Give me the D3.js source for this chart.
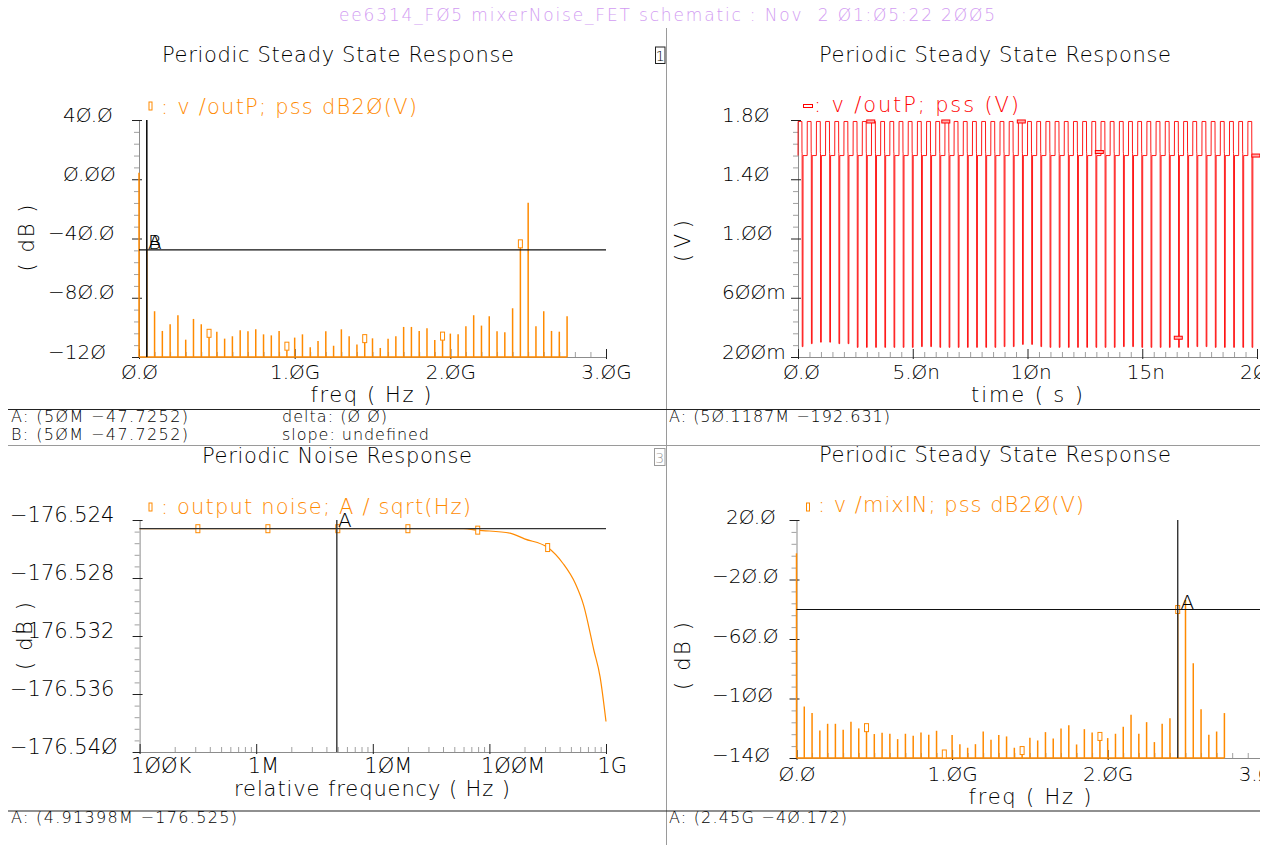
<!DOCTYPE html>
<html>
<head>
<meta charset="utf-8">
<script src="https://cdn.jsdelivr.net/npm/d3@7"></script>
<style>
body { margin: 0; background: #fff; }
svg { display: block; font-family: "DejaVu Sans", sans-serif; font-weight: 200; }
text { white-space: pre; }
</style>
</head>
<body>
<svg id="chart"></svg>
<script>
// harmonics of the pss runs (MHz), shared by the two spectrum plots
var harmFreqMHz = [0, 50, 100, 150, 200, 250, 300, 350, 400, 450,
    500, 550, 600, 650, 700, 750, 800, 850, 900, 950,
    1000, 1050, 1100, 1150, 1200, 1250, 1300, 1350, 1400, 1450,
    1500, 1550, 1600, 1650, 1700, 1750, 1800, 1850, 1900, 1950,
    2000, 2050, 2100, 2150, 2200, 2250, 2300, 2350, 2400, 2450,
    2500, 2550, 2600, 2650, 2700, 2750];

// v /outP ; pss dB20(V)
var outPdB = [4.4, -47.7252, -89.1, -102.4, -97.9, -91.8, -108.3, -94.3, -97.9, -104.0,
    -102.9, -107.6, -106.0, -102.0, -102.7, -101.3, -104.7, -105.4, -102.4, -112.7,
    -106.9, -104.7, -113.5, -109.2, -102.7, -112.4, -101.3, -106.0, -111.5, -107.6,
    -107.4, -113.9, -107.6, -106.0, -99.7, -99.7, -102.4, -100.6, -108.5, -105.9,
    -104.2, -104.7, -99.3, -91.8, -98.8, -92.5, -102.7, -103.3, -87.1, -43.6,
    -15.9, -99.3, -89.1, -102.4, -102.9, -92.5];

// v /mixIN ; pss dB20(V)
var mixINdB = [-2.4, -105.4, -109.8, -121.5, -117.0, -117.0, -121.0, -115.7, -120.1, -119.6,
    -123.9, -123.0, -123.7, -127.3, -123.7, -125.1, -122.8, -124.4, -121.7, -137.3,
    -124.6, -130.7, -133.1, -130.7, -122.2, -127.7, -124.6, -125.5, -133.1, -135.0,
    -126.4, -128.2, -122.6, -126.9, -120.1, -117.9, -130.9, -120.6, -122.8, -125.5,
    -126.6, -123.7, -119.0, -111.0, -123.7, -115.9, -129.3, -117.0, -113.2, -40.172,
    -33.7, -76.3, -107.2, -124.4, -122.2, -109.8];

// points that carry a trace symbol
var specMarkIdx = [9, 19, 29, 39, 49];

// output noise (relative frequency in Hz)
var noiseFreqHz = [1e5, 3e5, 1e6, 3e6, 1e7, 3e7, 6e7, 7.9e7, 1.5e8, 2e8, 3.17e8,
    4.28e8, 5.47e8, 6.44e8, 7.88e8, 8.89e8, 1e9];
var noiseDb = [-176.5246, -176.5246, -176.5246, -176.5246, -176.5246, -176.5246, -176.5246,
    -176.5247, -176.5249, -176.5253, -176.5259, -176.5270, -176.5284, -176.5299,
    -176.5330, -176.5348, -176.5379];
var noiseMarkHz = [3.16e5, 1.26e6, 5.01e6, 2.0e7, 7.94e7, 3.16e8];
var noiseMarkDb = [-176.5246, -176.5246, -176.5246, -176.5246, -176.5247, -176.5259];

// v /outP ; pss (V): one cycle shape, repeated with the spike floor of each cycle
var periodNs = 0.4;
var cycleDtNs = [0, 0.004, 0.17, 0.174, 0.18, 0.185, 0.215, 0.22];
var cycleV = [1.56, 1.79, 1.79, 1.585, 1.575, null, null, 1.56];
var cycleMinV = [0.27, 0.29, 0.30, 0.30, 0.29, 0.29, 0.265, 0.265, 0.265, 0.265,
    0.265, 0.265, 0.265, 0.27, 0.27, 0.265, 0.265, 0.265, 0.265, 0.265,
    0.265, 0.265, 0.27, 0.27, 0.285, 0.285, 0.27, 0.265, 0.265, 0.265,
    0.265, 0.265, 0.265, 0.265, 0.265, 0.27, 0.27, 0.265, 0.265, 0.265,
    0.265, 0.265, 0.265, 0.27, 0.27, 0.265, 0.265, 0.265, 0.265, 0.265];
var waveMarkNs = [3.17, 6.44, 9.73, 13.13, 16.57, 19.95];
var waveMarkV = [1.79, 1.79, 1.79, 1.584, 0.33, 1.56];

// markers
var markA_TL = { f: 50, v: -47.7252 };
var markA_BL = { f: 4.91398e6, v: -176.5246 };
var markA_BR = { f: 2450, v: -40.172 };

// tick labels
var tlYTicks = [-120, -80, -40, 0, 40], tlYLabels = ["−12Ø", "−8Ø.Ø", "−4Ø.Ø", "Ø.ØØ", "4Ø.Ø"];
var tlXTicks = [0, 1000, 2000, 3000], tlXLabels = ["Ø.Ø", "1.ØG", "2.ØG", "3.ØG"];
var trYTicks = [0.2, 0.6, 1.0, 1.4, 1.8], trYLabels = ["2ØØm", "6ØØm", "1.ØØ", "1.4Ø", "1.8Ø"];
var trXTicks = [0, 5, 10, 15, 20], trXLabels = ["Ø.Ø", "5.Øn", "1Øn", "15n", "2Øn"];
var blYTicks = [-176.540, -176.536, -176.532, -176.528, -176.524],
    blYLabels = ["−176.54Ø", "−176.536", "−176.532", "−176.528", "−176.524"];
var blXTicks = [1e5, 1e6, 1e7, 1e8, 1e9], blXLabels = ["1ØØK", "1M", "1ØM", "1ØØM", "1G"];
var brYTicks = [-140, -100, -60, -20, 20], brYLabels = ["−14Ø", "−1ØØ", "−6Ø.Ø", "−2Ø.Ø", "2Ø.Ø"];
var brXTicks = [0, 1000, 2000, 3000], brXLabels = ["Ø.Ø", "1.ØG", "2.ØG", "3.ØG"];

var ORANGE = "#ff8a00", RED = "#ff0000", AXIS_GREY = "#8c8c8c", MINOR_GREY = "#a0a0a0";

var svg = d3.select("#chart").attr("width", 1279).attr("height", 845);
svg.append("defs").append("clipPath").attr("id", "cut")
    .append("rect").attr("x", 0).attr("y", 0).attr("width", 1260).attr("height", 845);
var root = svg.append("g").attr("clip-path", "url(#cut)");

// scales
var xTL = d3.scaleLinear().domain([0, 3000]).range([139, 606]);
var yTL = d3.scaleLinear().domain([-120, 40]).range([357, 120]);
var xTR = d3.scaleLinear().domain([0, 20]).range([798, 1257]);
var yTR = d3.scaleLinear().domain([0.2, 1.8]).range([357, 120]);
var xBL = d3.scaleLog().domain([1e5, 1e9]).range([139.6, 606]);
var yBL = d3.scaleLinear().domain([-176.540, -176.524]).range([752, 520]);
var xBR = d3.scaleLinear().domain([0, 3000]).range([796.5, 1263.3]);
var yBR = d3.scaleLinear().domain([-140, 20]).range([758, 520]);

function txt(x, y, s, o) {
    o = o || {};
    var t = root.append("text").attr("x", x).attr("y", y).text(s)
        .attr("font-size", o.size || 20)
        .attr("fill", o.fill || "#000")
        .attr("text-anchor", o.anchor || "start");
    if (o.len) t.attr("textLength", o.len).attr("lengthAdjust", "spacing");
    return t;
}

function vtxt(cx, cy, s, len) {
    root.append("text").attr("transform", "translate(" + cx + "," + cy + ") rotate(-90)")
        .attr("text-anchor", "middle").attr("dy", "0.35em")
        .attr("font-size", 21).attr("fill", "#000")
        .attr("textLength", len).attr("lengthAdjust", "spacing")
        .text(s);
}

function yAxis(scale, x0, majors, labels, minors, labelLeft, minusW, ty, fs) {
    var minor = root.append("g").attr("transform", "translate(" + x0 + ",0)")
        .call(d3.axisLeft(scale).tickValues(minors).tickSize(5).tickSizeOuter(0).tickFormat(""));
    minor.select(".domain").attr("stroke", AXIS_GREY);
    minor.selectAll(".tick line").attr("stroke", MINOR_GREY);
    var major = root.append("g").attr("transform", "translate(" + x0 + ",0)")
        .call(d3.axisLeft(scale).tickValues(majors).tickSize(7).tickSizeOuter(0)
            .tickFormat(function(d, i) { return labels[i]; }));
    major.select(".domain").remove();
    major.attr("font-family", null).attr("font-size", fs).attr("text-anchor", "start");
    major.selectAll(".tick line").attr("stroke", "#222").attr("x1", 3);
    major.selectAll(".tick text")
        .attr("fill", "#000")
        .attr("x", function(d, i) { return labelLeft - x0 + (labels[i].charAt(0) === "−" ? 0 : minusW); })
        .attr("dy", null).attr("y", ty);
}

function xAxis(scale, y0, majors, labels, minors, anchor, dx, ty, fs) {
    var minor = root.append("g").attr("transform", "translate(0," + y0 + ")")
        .call(d3.axisBottom(scale).tickValues(minors).tickSize(-5).tickSizeOuter(0).tickFormat(""));
    minor.select(".domain").attr("stroke", AXIS_GREY);
    minor.selectAll(".tick line").attr("stroke", MINOR_GREY);
    var major = root.append("g").attr("transform", "translate(0," + y0 + ")")
        .call(d3.axisBottom(scale).tickValues(majors).tickSize(-8).tickSizeOuter(0)
            .tickFormat(function(d, i) { return labels[i]; }));
    major.select(".domain").remove();
    major.attr("font-family", null).attr("font-size", fs).attr("text-anchor", anchor);
    major.selectAll(".tick line").attr("stroke", "#222").attr("y1", 2);
    major.selectAll(".tick text").attr("fill", "#000")
        .attr("dy", null).attr("y", ty).attr("x", dx);
}

function notIn(list) { return function(v) { return list.every(function(m) { return Math.abs(m - v) > 1e-9; }); }; }

function stems(xs, ys, vals, floor) {
    var g = root.append("g");
    g.append("line")
        .attr("x1", xs(harmFreqMHz[0])).attr("x2", xs(harmFreqMHz[harmFreqMHz.length - 1]))
        .attr("y1", ys(floor)).attr("y2", ys(floor))
        .attr("stroke", ORANGE).attr("stroke-width", 1.3);
    g.selectAll("line.stem").data(harmFreqMHz).enter().append("line")
        .attr("class", "stem")
        .attr("x1", function(d) { return xs(d); })
        .attr("x2", function(d) { return xs(d); })
        .attr("y1", ys(floor))
        .attr("y2", function(d, i) { return ys(vals[i]); })
        .attr("stroke", ORANGE).attr("stroke-width", 1.5);
    g.selectAll("rect").data(specMarkIdx).enter().append("rect")
        .attr("x", function(i) { return xs(harmFreqMHz[i]) - 2; })
        .attr("y", function(i) { return ys(vals[i]) - 4; })
        .attr("width", 4).attr("height", 8)
        .attr("fill", "#fff").attr("stroke", ORANGE).attr("stroke-width", 1);
}

// ---- frame ----
root.append("line").attr("x1", 666.5).attr("x2", 666.5).attr("y1", 28).attr("y2", 845)
    .attr("stroke", "#9a9a9a");
[[409.5, "#222"], [445.5, "#9a9a9a"], [811, "#222"]].forEach(function(h) {
    root.append("line").attr("x1", 8).attr("x2", 1260).attr("y1", h[0]).attr("y2", h[0])
        .attr("stroke", h[1]).attr("stroke-width", 1.2);
});
root.append("rect").attr("x", 655.5).attr("y", 47).attr("width", 9.5).attr("height", 16.5)
    .attr("fill", "none").attr("stroke", "#222");
txt(660.2, 61, "1", { size: 14, anchor: "middle" });
root.append("rect").attr("x", 654.5).attr("y", 448.5).attr("width", 10.5).attr("height", 17)
    .attr("fill", "none").attr("stroke", "#9a9a9a");
txt(659.7, 463, "3", { size: 14, anchor: "middle", fill: "#9a9a9a" });

txt(339, 21, "ee6314_FØ5 mixerNoise_FET schematic : Nov  2 Ø1:Ø5:22 2ØØ5",
    { size: 17, fill: "#d29cf2", len: 656 });

// ---- top left: outP spectrum ----
txt(162, 62, "Periodic Steady State Response", { size: 21, len: 352 });
root.append("rect").attr("x", 149).attr("y", 102).attr("width", 3).attr("height", 8)
    .attr("fill", "none").attr("stroke", ORANGE);
txt(161, 114, ": v /outP; pss dB2Ø(V)", { size: 21, fill: ORANGE, len: 256 });
yAxis(yTL, 139, tlYTicks, tlYLabels, d3.range(-120, 40.1, 8).filter(notIn(tlYTicks)), 48, 15, 1, 20);
xAxis(xTL, 357, tlXTicks, tlXLabels, d3.range(0, 3001, 100).filter(notIn(tlXTicks)), "middle", 0, 22, 20);
vtxt(27, 238, "( dB )", 67);
txt(371, 402, "freq ( Hz )", { size: 21, anchor: "middle", len: 121 });
stems(xTL, yTL, outPdB, -120);
root.append("line").attr("x1", xTL(markA_TL.f)).attr("x2", xTL(markA_TL.f))
    .attr("y1", yTL(40)).attr("y2", yTL(-120)).attr("stroke", "#111").attr("stroke-width", 1.6);
root.append("line").attr("x1", xTL(0)).attr("x2", xTL(3000))
    .attr("y1", yTL(markA_TL.v)).attr("y2", yTL(markA_TL.v)).attr("stroke", "#111").attr("stroke-width", 1.2);
txt(148, 249, "A", { size: 20 });
txt(148, 249, "B", { size: 20 });

txt(11, 422, "A: (5ØM −47.7252)", { size: 16, len: 177 });
txt(11, 440, "B: (5ØM −47.7252)", { size: 16, len: 177 });
txt(282, 422, "delta: (Ø Ø)", { size: 16, len: 105 });
txt(282, 440, "slope: undefined", { size: 16, len: 147 });

// ---- top right: outP waveform ----
txt(819, 62, "Periodic Steady State Response", { size: 21, len: 352 });
root.append("rect").attr("x", 803.5).attr("y", 104.5).attr("width", 9).attr("height", 3)
    .attr("fill", "none").attr("stroke", RED);
txt(814, 112, ": v /outP; pss (V)", { size: 21, fill: RED, len: 205 });
yAxis(yTR, 798, trYTicks, trYLabels, d3.range(0.2, 1.801, 0.08).filter(notIn(trYTicks)), 722, 0, 1, 20);
xAxis(xTR, 357, trXTicks, trXLabels, d3.range(0, 20.01, 0.5).filter(notIn(trXTicks)), "middle", 3, 22, 20);
vtxt(683, 241, "( V )", 42);
txt(1027, 402, "time ( s )", { size: 21, anchor: "middle", len: 112 });

var wavePts = [];
cycleMinV.forEach(function(vmin, k) {
    cycleDtNs.forEach(function(dt, j) {
        wavePts.push([k * periodNs + dt, cycleV[j] === null ? vmin : cycleV[j]]);
    });
});
wavePts.push([20, 1.56]);
root.append("path").datum(wavePts)
    .attr("d", d3.line().x(function(d) { return xTR(d[0]); }).y(function(d) { return yTR(d[1]); }))
    .attr("fill", "none").attr("stroke", RED).attr("stroke-width", 0.9);
root.selectAll("rect.wm").data(waveMarkNs).enter().append("rect")
    .attr("class", "wm")
    .attr("x", function(d) { return xTR(d) - 4; })
    .attr("y", function(d, i) { return yTR(waveMarkV[i]) - 1.5; })
    .attr("width", 8).attr("height", 3)
    .attr("fill", "#ffb0b0").attr("stroke", RED).attr("stroke-width", 1);

txt(669, 422, "A: (5Ø.1187M −192.631)", { size: 16, len: 221 });

// ---- bottom left: noise ----
txt(202, 463, "Periodic Noise Response", { size: 21, len: 270 });
root.append("rect").attr("x", 149).attr("y", 503).attr("width", 3).attr("height", 8)
    .attr("fill", "none").attr("stroke", ORANGE);
txt(161, 514, ": output noise; A / sqrt(Hz)", { size: 21, fill: ORANGE, len: 310 });
var blMinorY = d3.range(0, 21).map(function(i) { return -176.540 + i * 0.0008; }).filter(notIn(blYTicks));
var blMinorX = [];
[1e5, 1e6, 1e7, 1e8].forEach(function(dec) {
    for (var m = 2; m <= 9; m++) blMinorX.push(dec * m);
});
yAxis(yBL, 139.6, blYTicks, blYLabels, blMinorY, 10, 0, 1, 21);
xAxis(xBL, 752, blXTicks, blXLabels, blMinorX, "start", -9, 21, 21);
vtxt(25, 636, "( dB )", 68);
txt(372, 796, "relative frequency ( Hz )", { size: 21, anchor: "middle", len: 276 });

root.append("path").datum(noiseFreqHz)
    .attr("d", d3.line().curve(d3.curveMonotoneX)
        .x(function(d) { return xBL(d); })
        .y(function(d, i) { return yBL(noiseDb[i]); }))
    .attr("fill", "none").attr("stroke", ORANGE).attr("stroke-width", 1.2);
root.selectAll("rect.nm").data(noiseMarkHz).enter().append("rect")
    .attr("class", "nm")
    .attr("x", function(d) { return xBL(d) - 2; })
    .attr("y", function(d, i) { return yBL(noiseMarkDb[i]) - 4; })
    .attr("width", 4).attr("height", 8)
    .attr("fill", "#fff").attr("stroke", ORANGE).attr("stroke-width", 1);
root.append("line").attr("x1", xBL(markA_BL.f)).attr("x2", xBL(markA_BL.f))
    .attr("y1", yBL(-176.524)).attr("y2", yBL(-176.540)).attr("stroke", "#333").attr("stroke-width", 1.4);
root.append("line").attr("x1", xBL(1e5)).attr("x2", xBL(1e9))
    .attr("y1", yBL(markA_BL.v)).attr("y2", yBL(markA_BL.v)).attr("stroke", "#333").attr("stroke-width", 1.2);
txt(338, 527, "A", { size: 20 });
txt(11, 823, "A: (4.91398M −176.525)", { size: 16, len: 226 });

// ---- bottom right: mixIN spectrum ----
txt(819, 462, "Periodic Steady State Response", { size: 21, len: 352 });
root.append("rect").attr("x", 806.5).attr("y", 503).attr("width", 3).attr("height", 8)
    .attr("fill", "none").attr("stroke", ORANGE);
txt(818, 512, ": v /mixIN; pss dB2Ø(V)", { size: 21, fill: ORANGE, len: 266 });
yAxis(yBR, 796.5, brYTicks, brYLabels, d3.range(-140, 20.1, 8).filter(notIn(brYTicks)), 712, 14, 3, 20);
xAxis(xBR, 758, brXTicks, brXLabels, d3.range(0, 3001, 100).filter(notIn(brXTicks)), "middle", 0, 23, 20);
vtxt(683, 656, "( dB )", 68);
txt(1030, 804, "freq ( Hz )", { size: 21, anchor: "middle", len: 123 });
stems(xBR, yBR, mixINdB, -140);
root.append("line").attr("x1", xBR(markA_BR.f)).attr("x2", xBR(markA_BR.f))
    .attr("y1", yBR(20)).attr("y2", yBR(-140)).attr("stroke", "#333").attr("stroke-width", 1.4);
root.append("line").attr("x1", xBR(0)).attr("x2", 1260)
    .attr("y1", yBR(markA_BR.v)).attr("y2", yBR(markA_BR.v)).attr("stroke", "#111").attr("stroke-width", 1.2);
txt(1180.5, 609, "A", { size: 20 });
txt(669, 823, "A: (2.45G −4Ø.172)", { size: 16, len: 178 });
</script>
</body>
</html>
